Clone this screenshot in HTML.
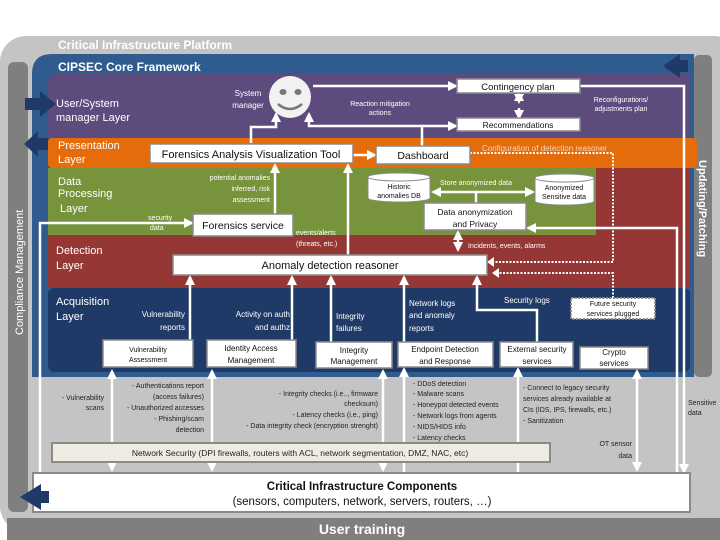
<!DOCTYPE html>
<html><head><meta charset="utf-8"><style>
html,body{margin:0;padding:0;background:#fff;}
svg{display:block;font-family:"Liberation Sans",sans-serif;}
</style></head><body>
<svg width="720" height="540" viewBox="0 0 720 540" xmlns="http://www.w3.org/2000/svg">
<defs>
<marker id="a" viewBox="0 0 10 10" refX="8" refY="5" markerWidth="4" markerHeight="4" orient="auto-start-reverse"><path d="M0,0 L10,5 L0,10 z" fill="#fff"/></marker>
</defs>
<rect x="0" y="36" width="740" height="496" rx="26" fill="#c4c4c4"/>
<rect x="7" y="518" width="713" height="22" fill="#7f7f7f"/>
<text x="362" y="534" font-size="14" font-weight="bold" fill="#fff" text-anchor="middle">User training</text>
<text x="58" y="49" font-size="12" font-weight="bold" fill="#fff">Critical Infrastructure Platform</text>
<rect x="8" y="62" width="20" height="450" rx="6" fill="#7f7f7f"/>
<text transform="translate(23,335) rotate(-90)" font-size="11" fill="#fff">Compliance Management</text>
<rect x="694" y="55" width="18" height="322" rx="5" fill="#7f7f7f"/>
<text transform="translate(699,160) rotate(90)" font-size="11" font-weight="bold" fill="#fff">Updating/Patching</text>
<path d="M52,54 H694 V377 H32 V74 Q32,54 52,54 z" fill="#2f5b8e"/>
<text x="58" y="71" font-size="12" font-weight="bold" fill="#fff">CIPSEC Core Framework</text>
<path d="M58,74 H690 V138 H48 V84 Q48,74 58,74z" fill="#5d4b7e"/>
<rect x="48" y="138" width="649" height="30" rx="4" fill="#e46c0a"/>
<rect x="48" y="168" width="548" height="67" fill="#77933c"/>
<rect x="596" y="168" width="94" height="67" fill="#953735"/>
<rect x="48" y="235" width="642" height="53" fill="#953735"/>
<rect x="48" y="288" width="642" height="84" rx="6" fill="#1f3a66"/>
<path d="M25,98 H40 V91 L56,104 L40,117 V110 H25z" fill="#1f3a66"/>
<path d="M48,138 H38 V131 L24,144 L38,157 V150 H48z" fill="#1f3a66"/>
<path d="M688,72 H680 V78 L663,66 L680,54 V60 H688z" fill="#1f3a66"/>
<g font-size="11" fill="#fff">
<text x="56" y="107">User/System</text><text x="56" y="121">manager Layer</text>
<text x="58" y="149">Presentation</text><text x="58" y="163">Layer</text>
<text x="58" y="185">Data</text><text x="58" y="197">Processing</text><text x="60" y="212">Layer</text>
<text x="56" y="254">Detection</text><text x="56" y="269">Layer</text>
<text x="56" y="305">Acquisition</text><text x="56" y="320">Layer</text>
</g>
<g stroke="#fff" stroke-width="2.5" fill="none" marker-end="url(#a)">
<path d="M40,473 V223 H192"/>
<path d="M275,214 V165"/>
<path d="M251,143 V127 H276 V114"/>
<path d="M422,146 V126 H309 V114"/>
<path d="M422,126 H456"/>
<path d="M313,86 H456"/>
<path d="M519,102 V93" marker-start="url(#a)"/>
<path d="M519,108 V118"/>
<path d="M580,86 H684 V472"/>
<path d="M677,472 V228 H528"/>
<path d="M348,255 V165"/>
<path d="M348,155 H375"/>
<path d="M476,203 V192 H433"/>
<path d="M476,192 H533"/>
<path d="M458,240 V232"/>
<path d="M458,240 V250"/>
<path d="M190,340 V277"/>
<path d="M292,340 V277"/>
<path d="M331,342 V277"/>
<path d="M404,342 V277"/>
<path d="M537,342 V310 H477 V277"/>
<path d="M404,473 V369"/>
<path d="M518,473 V369"/>
</g>
<g stroke="#fff" stroke-width="2.5" fill="none" marker-end="url(#a)" marker-start="url(#a)">
<path d="M112,371 V470"/>
<path d="M212,371 V470"/>
<path d="M383,371 V470"/>
<path d="M637,371 V470"/>
</g>
<rect x="52" y="443" width="498" height="19" fill="#eeece1" stroke="#8a8a8a" stroke-width="2"/>
<text x="300" y="456" font-size="8.5" fill="#222" text-anchor="middle">Network Security (DPI firewalls, routers with ACL, network segmentation, DMZ, NAC, etc)</text>
<rect x="33" y="473" width="657" height="39" fill="#fff" stroke="#8a8a8a" stroke-width="2"/>
<text x="362" y="490" font-size="11.5" font-weight="bold" fill="#111" text-anchor="middle">Critical Infrastructure Components</text>
<text x="362" y="505" font-size="11.5" fill="#111" text-anchor="middle">(sensors, computers, network, servers, routers, …)</text>
<path d="M49,491 H41 V484 L20,497 L41,510 V503 H49z" fill="#1f3a66"/>
<g stroke="#fff" stroke-width="2" stroke-dasharray="2,1.5" fill="none">
<path d="M470,153 H613 V262 H492"/>
<path d="M613,298 V273 H497"/>
</g>
<path d="M487,262 L494,257 L494,267z M492,273 L499,268 L499,278z" fill="#fff"/>
<circle cx="290" cy="97" r="21" fill="#f2f2f2"/>
<ellipse cx="283" cy="92" rx="3.5" ry="3" fill="#777"/><ellipse cx="298" cy="92" rx="3.5" ry="3" fill="#777"/>
<path d="M278,104 Q290,114 302,104" stroke="#777" stroke-width="2.5" fill="none"/>
<g fill="#fff" stroke="#8a8a8a" stroke-width="1.5">
<rect x="457" y="79" width="123" height="14"/>
<rect x="457" y="118" width="123" height="13"/>
<rect x="150" y="144" width="203" height="19"/>
<rect x="376" y="146" width="94" height="18"/>
<rect x="424" y="203" width="102" height="27"/>
<rect x="193" y="214" width="100" height="22"/>
<rect x="173" y="255" width="314" height="20"/>
<rect x="103" y="340" width="90" height="27"/>
<rect x="207" y="340" width="89" height="27"/>
<rect x="316" y="342" width="76" height="26"/>
<rect x="398" y="342" width="95" height="25"/>
<rect x="500" y="342" width="73" height="25"/>
<rect x="580" y="347" width="68" height="22"/>
</g>
<rect x="571" y="298" width="84" height="21" fill="#fff" stroke="#888" stroke-width="2" stroke-dasharray="2,1.5"/>
<g fill="#fff" stroke="#8a8a8a" stroke-width="1">
<path d="M368,177 V198 A31,4 0 0 0 430,198 V177"/><ellipse cx="399" cy="177" rx="31" ry="4"/>
<path d="M535,178 V201 A29.5,4 0 0 0 594,201 V178"/><ellipse cx="564.5" cy="178" rx="29.5" ry="4"/>
</g>
<g fill="#111" text-anchor="middle">
<text x="518" y="90" font-size="9.5">Contingency plan</text>
<text x="518" y="128" font-size="8.5">Recommendations</text>
<text x="251" y="158" font-size="11">Forensics Analysis Visualization Tool</text>
<text x="423" y="159" font-size="10.5">Dashboard</text>
<text x="475" y="215" font-size="8.5">Data anonymization</text>
<text x="475" y="227" font-size="8.5">and Privacy</text>
<text x="243" y="229" font-size="10.5">Forensics service</text>
<text x="330" y="269" font-size="11">Anomaly detection reasoner</text>
<text x="399" y="189" font-size="7">Historic</text><text x="399" y="198" font-size="7">anomalies DB</text>
<text x="564" y="190" font-size="7">Anonymized</text><text x="564" y="199" font-size="7">Sensitive data</text>
<text x="613" y="306" font-size="7">Future security</text><text x="613" y="316" font-size="7">services plugged</text>
<text x="148" y="352" font-size="7">Vulnerability</text><text x="148" y="362" font-size="7">Assessment</text>
<text x="251" y="351" font-size="8">Identity Access</text><text x="251" y="363" font-size="8">Management</text>
<text x="354" y="353" font-size="8">Integrity</text><text x="354" y="364" font-size="8">Management</text>
<text x="445" y="352" font-size="8">Endpoint Detection</text><text x="445" y="364" font-size="8">and Response</text>
<text x="537" y="352" font-size="8">External security</text><text x="537" y="364" font-size="8">services</text>
<text x="614" y="355" font-size="8">Crypto</text><text x="614" y="366" font-size="8">services</text>
</g>
<g fill="#fff" font-size="8">
<text x="248" y="96" text-anchor="middle">System</text><text x="248" y="108" text-anchor="middle">manager</text>
<text x="380" y="106" text-anchor="middle" font-size="7">Reaction mitigation</text><text x="380" y="115" text-anchor="middle" font-size="7">actions</text>
<text x="621" y="102" text-anchor="middle" font-size="7">Reconfigurations/</text><text x="621" y="111" text-anchor="middle" font-size="7">adjustments plan</text>
<text x="482" y="151" font-size="8" fill="#fcd5b4">Configuration of detection reasoner</text>
<text x="270" y="180" text-anchor="end" font-size="7">potential anomalies</text>
<text x="270" y="191" text-anchor="end" font-size="7">inferred, risk</text>
<text x="270" y="202" text-anchor="end" font-size="7">assessment</text>
<text x="148" y="220" font-size="7">security</text><text x="150" y="230" font-size="7">data</text>
<text x="440" y="185" font-size="7">Store anonymized data</text>
<text x="296" y="235" font-size="7">events/alerts</text><text x="296" y="246" font-size="7">(threats, etc.)</text>
<text x="468" y="248" font-size="7">Incidents, events, alarms</text>
<text x="185" y="317" text-anchor="end">Vulnerability</text><text x="185" y="330" text-anchor="end">reports</text>
<text x="290" y="317" text-anchor="end">Activity on auth</text><text x="290" y="330" text-anchor="end">and authz</text>
<text x="336" y="319">Integrity</text><text x="336" y="331">failures</text>
<text x="409" y="306">Network logs</text><text x="409" y="318">and anomaly</text><text x="409" y="331">reports</text>
<text x="504" y="303">Security logs</text>
</g>
<g fill="#222" font-size="7">
<text x="104" y="400" text-anchor="end">- Vulnerability</text><text x="104" y="410" text-anchor="end">scans</text>
<text x="204" y="388" text-anchor="end">- Authentications report</text>
<text x="204" y="399" text-anchor="end">(access failures)</text>
<text x="204" y="410" text-anchor="end">- Unauthorized accesses</text>
<text x="204" y="421" text-anchor="end">- Phishing/scam</text>
<text x="204" y="432" text-anchor="end">detection</text>
<text x="378" y="396" text-anchor="end">- Integrity checks (i.e.., firmware</text>
<text x="378" y="406" text-anchor="end">checksum)</text>
<text x="378" y="417" text-anchor="end">- Latency checks (i.e., ping)</text>
<text x="378" y="428" text-anchor="end">- Data integrity check (encryption strenght)</text>
<text x="413" y="386">- DDoS detection</text>
<text x="413" y="396">- Malware scans</text>
<text x="413" y="407">- Honeypot detected events</text>
<text x="413" y="418">- Network logs from agents</text>
<text x="413" y="429">- NIDS/HIDS info</text>
<text x="413" y="440">- Latency checks</text>
<text x="523" y="390">- Connect to legacy security</text>
<text x="523" y="401">services already available at</text>
<text x="523" y="412">CIs (IDS, IPS, firewalls, etc.)</text>
<text x="523" y="423">- Sanitization</text>
<text x="632" y="446" text-anchor="end">OT sensor</text><text x="632" y="458" text-anchor="end">data</text>
<text x="688" y="405">Sensitive</text><text x="688" y="415">data</text>
</g>
</svg>
</body></html>
